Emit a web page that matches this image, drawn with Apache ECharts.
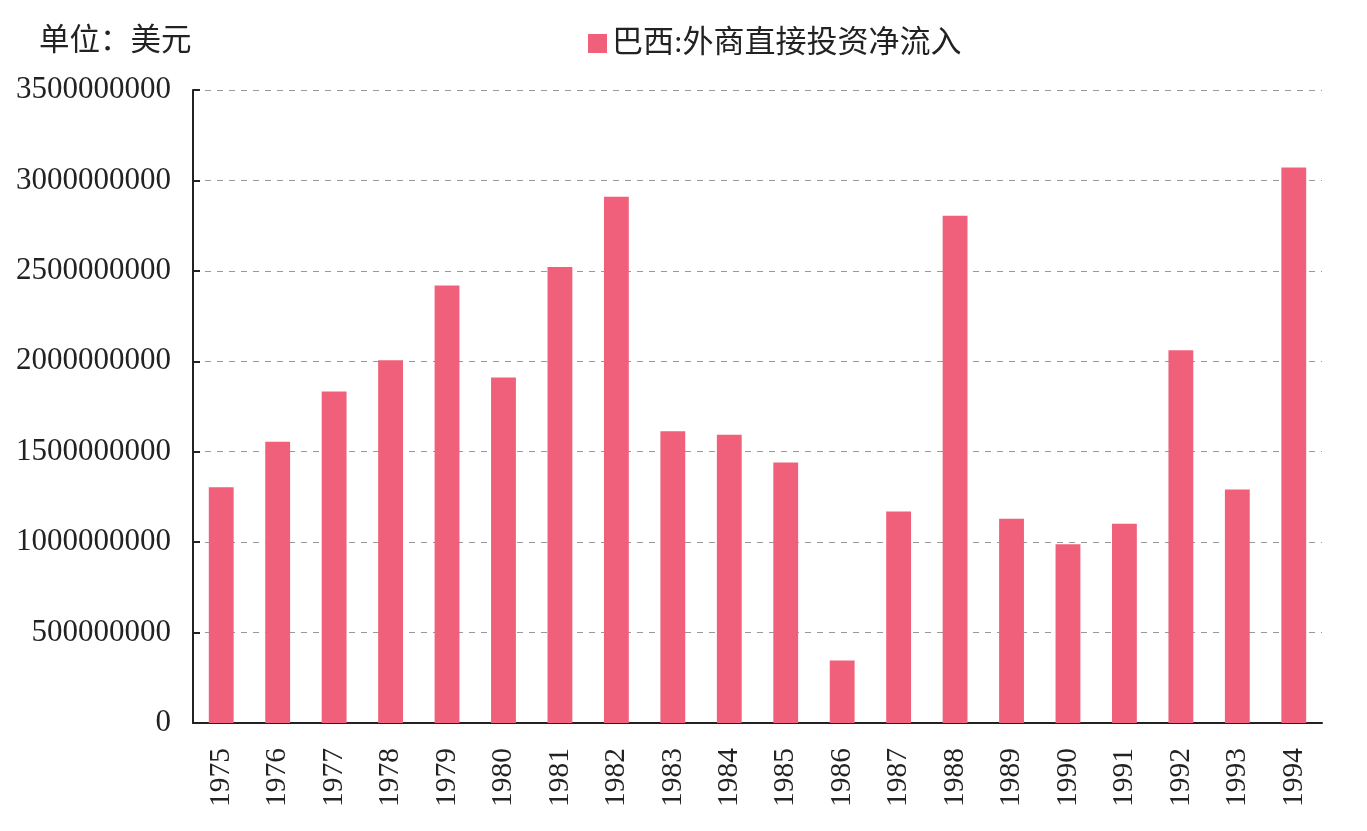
<!DOCTYPE html>
<html><head><meta charset="utf-8">
<script src="https://cdn.jsdelivr.net/npm/echarts@6/dist/echarts.min.js"></script>
<style>html,body{margin:0;padding:0;background:#fff}#c{width:1367px;height:831px}</style>
</head><body><div id="c"></div>
<script>
const years = ['1975','1976','1977','1978','1979','1980','1981','1982','1983','1984','1985','1986','1987','1988','1989','1990','1991','1992','1993','1994'];
const fdi = [1303000000,1555000000,1833000000,2006000000,2419000000,1911000000,2522000000,2910000000,1613000000,1594000000,1441000000,346000000,1169000000,2805000000,1130000000,989000000,1102000000,2061000000,1291000000,3072000000];
const seriesName = '巴西:外商直接投资净流入';
const unitLabel = '单位：美元';
const font = '"Liberation Serif", "Noto Sans CJK SC", serif';
const chart = echarts.init(document.getElementById('c'));
chart.setOption({
  backgroundColor: '#fff',
  animation: false,
  title: {text: unitLabel, left: 34, top: 22, textStyle: {fontFamily: font, fontSize: 30.5, fontWeight: 'normal', color: '#222'}},
  legend: {data: [seriesName], left: 583, top: 23, icon: 'rect', itemWidth: 19, itemHeight: 19, itemGap: 10,
    textStyle: {fontFamily: font, fontSize: 31, color: '#222'}},
  grid: {left: 193, right: 45, top: 90, bottom: 108, containLabel: false},
  xAxis: {type: 'category', data: years,
    axisLine: {lineStyle: {color: '#222', width: 2}},
    axisTick: {inside: true, length: 7, lineStyle: {color: '#222', width: 2}},
    axisLabel: {rotate: 90, margin: 25, fontFamily: font, fontSize: 29.5, color: '#222'}},
  yAxis: {type: 'value', min: 0, max: 3500000000, interval: 500000000,
    axisLine: {show: true, lineStyle: {color: '#222', width: 2}},
    axisTick: {show: true, inside: true, length: 7, lineStyle: {color: '#222', width: 2}},
    axisLabel: {margin: 22, fontFamily: font, fontSize: 31, color: '#222', formatter: v => String(v)},
    splitLine: {lineStyle: {color: '#999', type: [6, 6], width: 1}}},
  series: [{name: seriesName, type: 'bar', data: fdi, barWidth: '44%', itemStyle: {color: '#F0607A'}}]
});
</script></body></html>
